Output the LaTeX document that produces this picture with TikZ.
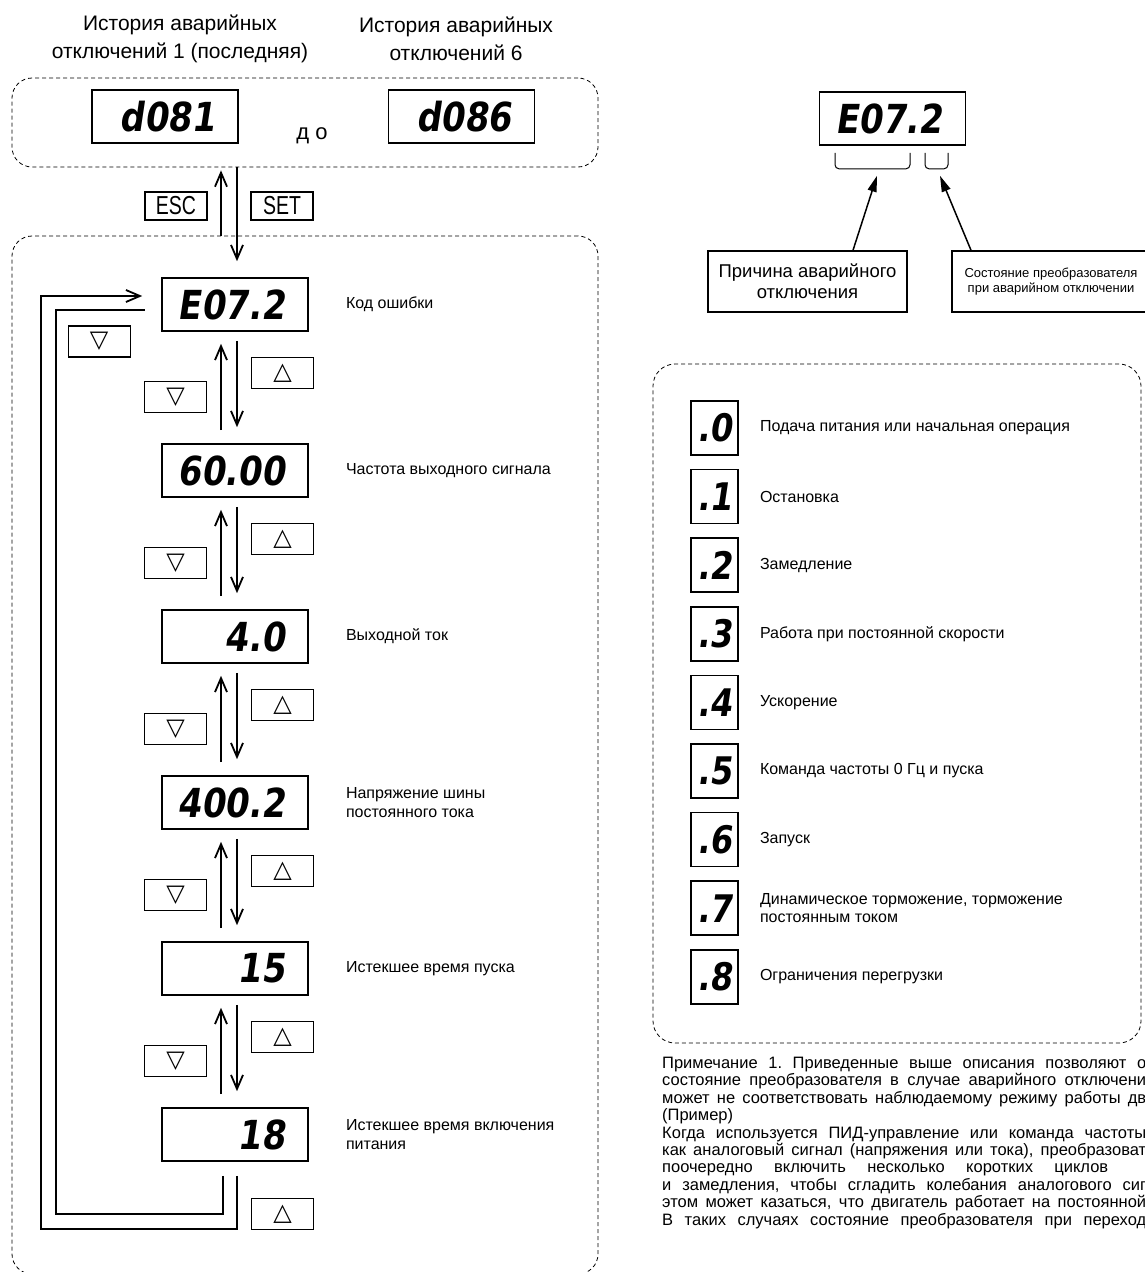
\documentclass[tikz,border=0pt]{standalone}
\usepackage{fontspec}
\setmainfont{Liberation Sans}
\newfontfamily\segfont{DejaVu Sans}[UprightFont=* Bold,FakeSlant=0.15,FakeStretch=0.85]
\newfontfamily\symfont{DejaVu Sans}
\newfontfamily\keyfont{Liberation Sans}[FakeStretch=0.75]
\usetikzlibrary{arrows.meta,calc,positioning}
\setlength{\parindent}{0pt}
\frenchspacing
\newcommand{\segr}[1]{\makebox[100pt][r]{#1}}
\newcommand{\nline}[2][484pt]{\makebox[#1][s]{#2}}

\begin{document}
\begin{tikzpicture}[x=1pt,y=-1pt,
    disp/.style={draw,line width=1.6pt,minimum width=146pt,minimum height=53pt,inner sep=0pt,
        font=\segfont\fontsize{40}{40}\selectfont},
    lbox/.style={draw,line width=1.6pt,minimum width=47pt,minimum height=54pt,inner sep=0pt,
        font=\segfont\fontsize{38}{38}\selectfont},
    key/.style={draw,line width=1.2pt,minimum width=62pt,minimum height=28pt,inner sep=0pt,
        font=\keyfont\fontsize{26}{26}\selectfont},
    tri/.style={key,minimum height=31pt,font=\symfont\fontsize{24}{24}\selectfont},
    grp/.style={draw,line width=0.8pt,dash pattern=on 4pt off 3pt,rounded corners=20pt},
    head/.style={align=center,font=\fontsize{21}{28}\selectfont},
    lab/.style={align=left,inner sep=0pt,font=\fontsize{16}{19}\selectfont},
    lab2/.style={align=left,inner sep=0pt,font=\fontsize{16}{18.5}\selectfont},
    note/.style={align=left,inner sep=0pt,font=\fontsize{16.5}{17.4}\selectfont},
    arr/.style={line width=1.8pt,-{Straight Barb[length=14pt,width=12pt]}},
    loopline/.style={line width=1.8pt},
    pointer/.style={line width=1.5pt,-{Triangle[length=16pt,width=9pt]}}
]
    \useasboundingbox[fill=white] (0,0) rectangle (1144,1272);

    \node[head] (hist1) at (180,39) {История аварийных\\отключений 1 (последняя)};
    \node[head] (hist6) at (456,39) {История аварийных\\отключений 6};

    \node[grp,minimum width=586pt,minimum height=89pt] (topgrp) at (305,122.5) {};
    \node[disp] (d081) at (165,116.5) {\segr{d081}};
    \node[disp] (d086) at (461.5,116.5) {\segr{d086}};
    \node[font=\fontsize{22}{22}\selectfont] (upto) at (312,136) {д\hspace{6pt}о};

    \node[grp,minimum width=586pt,minimum height=1038pt] (listgrp) at (305,755) {};

    \node[disp] (d1) at (235,304.5) {\segr{E07.2}};
    \node[disp] (d2) at (235,470.5) {\segr{60.00}};
    \node[disp] (d3) at (235,636.5) {\segr{4.0}};
    \node[disp] (d4) at (235,802.5) {\segr{400.2}};
    \node[disp] (d5) at (235,968.5) {\segr{15}};
    \node[disp] (d6) at (235,1134.5) {\segr{18}};

    \node[lab,right=37pt of d1] (l1) {Код ошибки};
    \node[lab,right=37pt of d2] (l2) {Частота выходного сигнала};
    \node[lab,right=37pt of d3] (l3) {Выходной ток};
    \node[lab,right=37pt of d4] (l4) {Напряжение шины\\постоянного тока};
    \node[lab,right=37pt of d5] (l5) {Истекшее время пуска};
    \node[lab,right=37pt of d6] (l6) {Истекшее время включения\\питания};

    \node[key] (esc) at (176,206) {ESC};
    \node[key] (set) at (282,206) {SET};
    \path (d1.north) ++(2,0) coordinate (setx) (d1.north) ++(-14,0) coordinate (escx);
    \draw[arr] (setx |- topgrp.south) -- ($(setx)+(0,-16)$);
    \draw[arr] (escx |- listgrp.north) -- ($(escx |- topgrp.south)+(0,3)$);

    \foreach \a/\b [count=\i] in {d1/d2,d2/d3,d3/d4,d4/d5,d5/d6} {
        \draw[arr] ($(\a.south)+(2,9)$) -- ($(\b.north)+(2,-16)$);
        \draw[arr] ($(\b.north)+(-14,-13)$) -- ($(\a.south)+(-14,12)$);
        \node[tri] (dn\i) at ($(\b.north)+(-59.5,-46)$) {▽};
        \node[tri] (up\i) at ($(\a.south)+(47.5,41.5)$) {△};
    }

    \draw[arr] ($(d6.south)+(2,14)$) -- ++(0,53) -| ($(d1.west)+(-120,-8.5)$) -- ($(d1.west)+(-19,-8.5)$);
    \draw[loopline] ($(d6.south)+(-12,14)$) -- ++(0,38) -| ($(d1.west)+(-105,5.5)$) -- ($(d1.west)+(-16,5.5)$);
    \node[tri] (dnloop) at ($(d1.west)+(-62,37)$) {▽};
    \node[tri] (uploop) at ($(d6.south)+(47.5,52)$) {△};

    \node[disp] (code) at (892.5,118.5) {\segr{E07.2}};
    \draw[line width=1pt,rounded corners=4pt] ($(code.south)+(-57.5,7)$) -- ++(0,16) -- ++(75,0) -- ++(0,-16);
    \draw[line width=1pt,rounded corners=4pt] ($(code.south)+(32.5,7)$) -- ++(0,16) -- ++(23,0) -- ++(0,-16);
    \coordinate (causept) at ($(code.south)+(-15.5,30)$);
    \coordinate (statept) at ($(code.south)+(47.5,30)$);

    \node[draw,line width=1.5pt,minimum width=199pt,minimum height=61pt,align=center,
        font=\fontsize{18.5}{21}\selectfont] (cause) at (807.5,281.5) {Причина аварийного\\отключения};
    \node[draw,line width=1.5pt,minimum width=198pt,minimum height=61pt,align=center,
        font=\fontsize{13}{15}\selectfont] (state) at (1051,281.5) {Состояние преобразователя\\при аварийном отключении};
    \draw[pointer] ($(cause.north)+(45.5,0)$) -- (causept);
    \draw[pointer] ($(state.north)+(-80,0)$) -- (statept);

    \node[grp,minimum width=488pt,minimum height=679pt,rounded corners=22pt] (legend) at (897,703.5) {};
    \draw[line width=0.8pt,dash pattern=on 4pt off 3pt] ($(state.south)+(-7,0)$) -- ($(state.south)+(-7,0)$ |- legend.north);

    \foreach \d/\t [count=\i from 0] in {0/{Подача питания или начальная операция},1/Остановка,2/Замедление,
        3/{Работа при постоянной скорости},4/Ускорение,5/{Команда частоты 0 Гц и пуска},6/Запуск,
        7/{Динамическое торможение, торможение\\постоянным током},8/{Ограничения перегрузки}} {
        \node[lbox] (s\i) at (714.5,428+68.6*\i) {.\d};
        \node[lab2,right=21pt of s\i] (t\i) {\t};
    }

    \node[note,anchor=north west] (remark) at (662,1057) {\nline{Примечание 1. Приведенные выше описания позволяют о}\\
    \nline{состояние преобразователя в случае аварийного отключени}\\
    \nline{может не соответствовать наблюдаемому режиму работы дв}\\
    (Пример)\\
    \nline{Когда используется ПИД-управление или команда частоты}\\
    \nline{как аналоговый сигнал (напряжения или тока), преобразоват}\\
    \nline[446pt]{поочередно включить несколько коротких циклов}\\
    \nline{и замедления, чтобы сгладить колебания аналогового сиг}\\
    \nline{этом может казаться, что двигатель работает на постоянной}\\
    \nline{В таких случаях состояние преобразователя при переход}};
\end{tikzpicture}
\end{document}
